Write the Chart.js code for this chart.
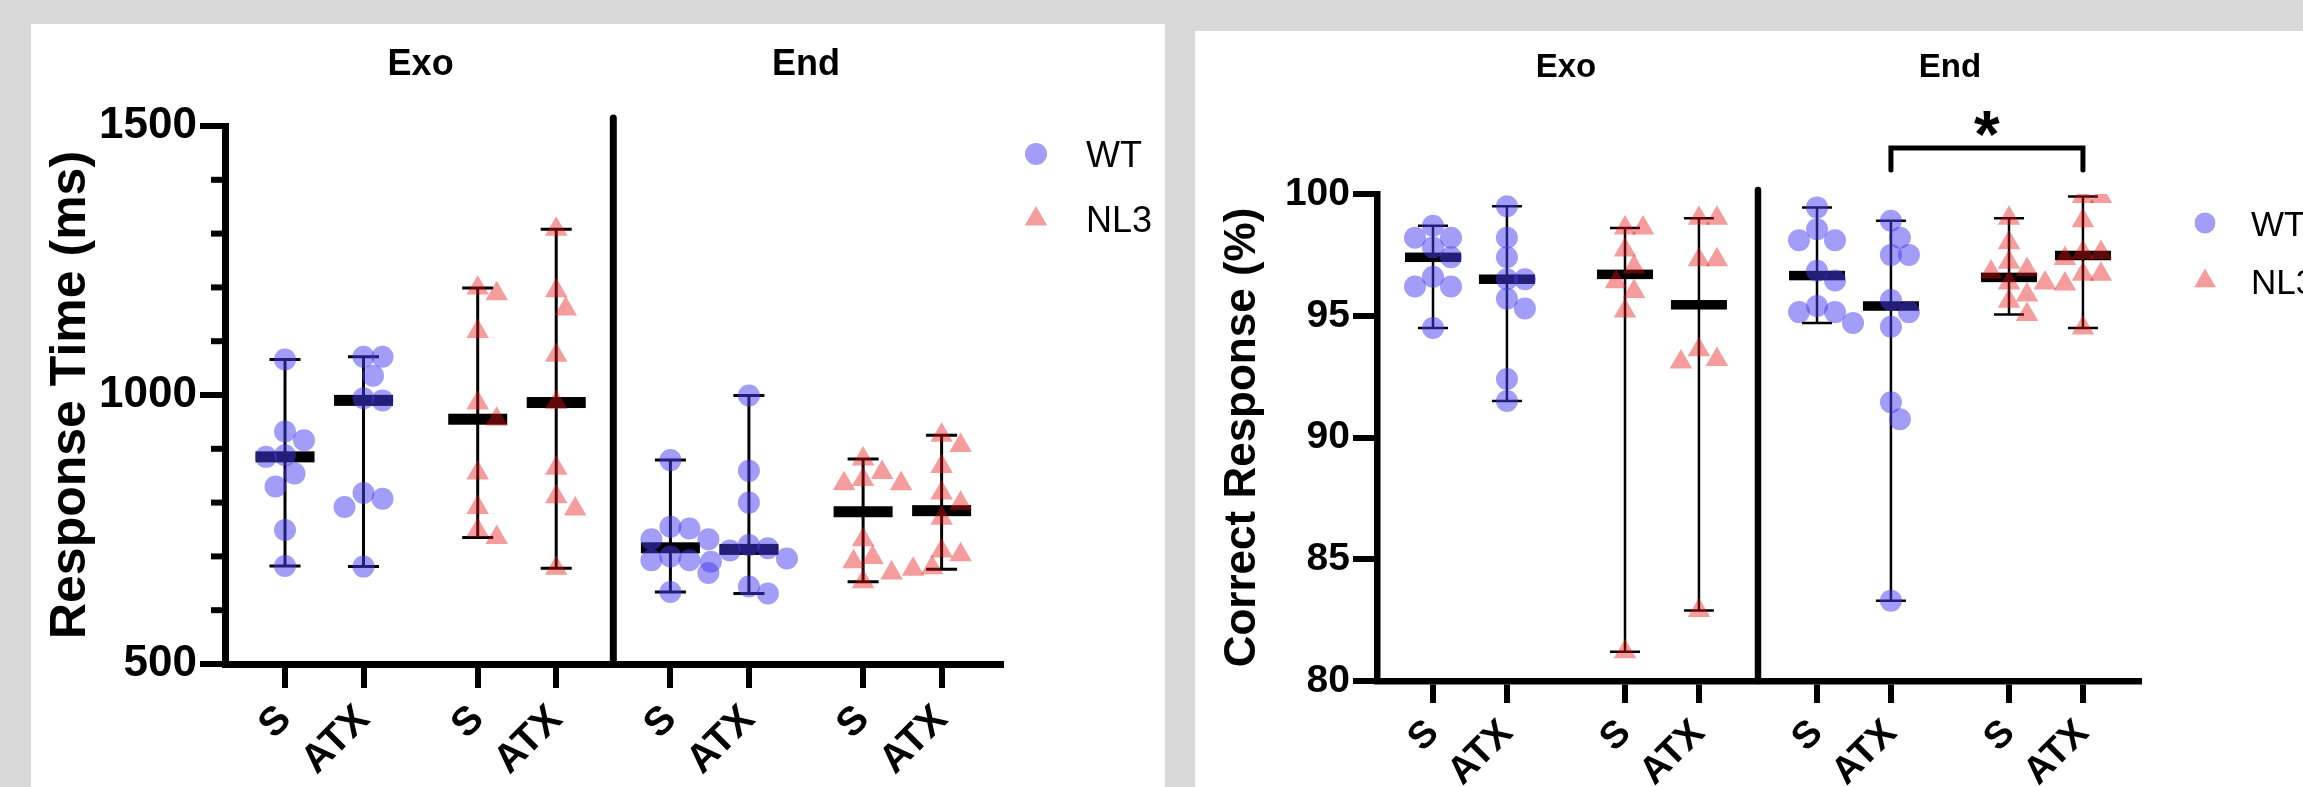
<!DOCTYPE html>
<html>
<head>
<meta charset="utf-8">
<title>Response time / correct response</title>
<script src="https://cdn.jsdelivr.net/npm/chart.js@4.4.1/dist/chart.umd.min.js"></script>
<style>
  html, body { margin:0; padding:0; }
  body { width:2303px; height:787px; background:#d9d9d9; position:relative; overflow:hidden; }
  .panel { position:absolute; background:#fff; }
  #leftPanel { left:31px; top:24px; width:1134px; height:763px; }
  #rightPanel { left:1195px; top:31px; width:1108px; height:756px; }
  canvas { display:block; }
</style>
</head>
<body>
<div class="panel" id="leftPanel"><canvas id="rtCanvas" width="1134" height="763"></canvas></div>
<div class="panel" id="rightPanel"><canvas id="crCanvas" width="1108" height="756"></canvas></div>
<script>
// Groups, genotypes and treatments
const groups = ['Exo', 'End'];
const genotypes = ['WT', 'NL3'];
const conditions = ['S', 'ATX'];

// Response time (ms), one value per animal
const rtWT_ExoS    = [1066, 932, 916, 888, 885, 854, 830, 749, 682];
const rtWT_ExoATX  = [1071, 1071, 1036, 994, 990, 818, 807, 792, 681];
const rtNL3_ExoS   = [1199, 1188, 1118, 985, 955, 855, 791, 748, 735];
const rtNL3_ExoATX = [1308, 1194, 1160, 1074, 986, 864, 811, 788, 678];
const rtWT_EndS    = [879, 755, 752, 732, 732, 700, 693, 693, 669, 634];
const rtWT_EndATX  = [999, 859, 800, 721, 715, 711, 696, 690, 644, 631];
const rtNL3_EndS   = [881, 856, 843, 835, 835, 731, 698, 690, 669, 653];
const rtNL3_EndATX = [925, 906, 867, 818, 799, 771, 710, 703, 679, 676];
const rtTicks = [500, 1000, 1500];
const rtMinorTicks = [600, 700, 800, 900, 1100, 1200, 1300, 1400];

// Correct response (%)
const crWT_ExoS    = [98.7, 98.2, 98.2, 97.8, 97.4, 96.6, 96.2, 96.2, 94.5];
const crWT_ExoATX  = [99.5, 98.2, 97.4, 96.5, 96.5, 95.7, 95.3, 92.4, 91.5];
const crNL3_ExoS   = [98.6, 98.6, 97.7, 97.0, 96.4, 96.0, 95.2, 81.2];
const crNL3_ExoATX = [99.0, 99.0, 97.3, 97.3, 93.6, 93.2, 93.1, 82.9];
const crWT_EndS    = [99.45, 98.55, 98.1, 98.1, 96.85, 96.45, 95.4, 95.15, 95.15, 94.7];
const crWT_EndATX  = [98.9, 98.2, 97.5, 97.5, 95.65, 95.15, 94.55, 91.45, 90.75, 83.3];
const crNL3_EndS   = [99.0, 98.0, 97.2, 96.9, 96.8, 96.35, 96.35, 95.85, 95.6, 95.05];
const crNL3_EndATX = [99.9, 99.9, 98.9, 97.6, 97.6, 97.35, 96.7, 96.7, 96.3, 94.5];
const crTicks = [80, 85, 90, 95, 100];
// significance: End / ATX, WT vs NL3
const crComparisons = [{ group: 1, cond: 1, label: '*' }];

// Styles
const pointColors = ['rgba(70,60,240,0.5)', 'rgba(230,20,20,0.42)'];
const pointStyles = ['circle', 'triangle'];
const SANS = "'Liberation Sans', Arial, Helvetica, sans-serif";

function median(vals){
  const s = [...vals].sort((a,b)=>a-b);
  const m = Math.floor(s.length/2);
  return s.length % 2 ? s[m] : (s[m-1] + s[m]) / 2;
}

// simple deterministic beeswarm: pixel offsets so markers do not pile up
function swarm(vals, pxPerY, step, minDist){
  const order = vals.map((v,i)=>i).sort((a,b)=>vals[b]-vals[a]);
  const placed = [];
  const offs = new Array(vals.length).fill(0);
  for(const i of order){
    const py = vals[i]*pxPerY;
    for(let n=0;n<30;n++){
      const dx = n===0 ? 0 : (n%2 ? 1 : -1) * Math.ceil(n/2) * step;
      if(placed.every(p => Math.hypot(p.x-dx, p.y-py) >= minDist)){
        offs[i] = dx; placed.push({x:dx, y:py}); break;
      }
    }
  }
  return offs;
}

function makeChart(canvasId, cfg){
  const slotPos = (g, k, c) => g*2 + k + c*cfg.pairStep;
  const tickPos = [], tickLab = [];
  groups.forEach((_, g) => genotypes.forEach((_, k) => conditions.forEach((lab, c) => {
    tickPos.push(slotPos(g,k,c)); tickLab.push(lab);
  })));

  const decor = {
    id: 'decor_' + canvasId,
    beforeDatasetsDraw(chart){
      const {ctx, chartArea, scales:{x, y}} = chart;
      ctx.save();
      ctx.strokeStyle = '#000'; ctx.fillStyle = '#000';
      // median with range
      genotypes.forEach((_, k) => groups.forEach((_, g) => conditions.forEach((_, c) => {
        const vals = cfg.series[k][g][c];
        const px = x.getPixelForValue(slotPos(g,k,c));
        const top = y.getPixelForValue(Math.max(...vals));
        const bot = y.getPixelForValue(Math.min(...vals));
        const mid = y.getPixelForValue(median(vals));
        ctx.lineWidth = cfg.whisker;
        ctx.lineCap = 'butt';
        ctx.beginPath();
        ctx.moveTo(px, top); ctx.lineTo(px, bot);
        ctx.moveTo(px - cfg.capHalf, top); ctx.lineTo(px + cfg.capHalf, top);
        ctx.moveTo(px - cfg.capHalf, bot); ctx.lineTo(px + cfg.capHalf, bot);
        ctx.stroke();
        ctx.fillRect(px - cfg.barHalf, mid - cfg.barThick/2, cfg.barHalf*2, cfg.barThick);
      })));
      // minor y ticks
      ctx.lineWidth = cfg.tickWidth;
      (cfg.minorTicks || []).forEach(v => {
        const py = y.getPixelForValue(v);
        ctx.beginPath(); ctx.moveTo(chartArea.left - cfg.minorLen, py); ctx.lineTo(chartArea.left, py); ctx.stroke();
      });
      // divider between Exo and End
      const dx = x.getPixelForValue((slotPos(0,1,1) + slotPos(1,0,0)) / 2);
      ctx.lineWidth = cfg.axisWidth;
      ctx.lineCap = 'round';
      ctx.beginPath(); ctx.moveTo(dx, chartArea.top - cfg.dividerRise); ctx.lineTo(dx, chartArea.bottom); ctx.stroke();
      ctx.restore();
    },
    afterDraw(chart){
      const {ctx, chartArea, scales:{x}} = chart;
      ctx.save();
      ctx.fillStyle = '#000'; ctx.strokeStyle = '#000';
      // group headers
      ctx.font = `bold ${cfg.headerSize}px ${SANS}`;
      ctx.textAlign = 'center'; ctx.textBaseline = 'alphabetic';
      groups.forEach((name, g) => {
        const cx = x.getPixelForValue((slotPos(g,0,0) + slotPos(g,1,1)) / 2);
        ctx.fillText(name, cx, cfg.headerBaseline);
      });
      // significance brackets
      (cfg.comparisons || []).forEach(cmp => {
        const x1 = x.getPixelForValue(slotPos(cmp.group,0,cmp.cond));
        const x2 = x.getPixelForValue(slotPos(cmp.group,1,cmp.cond));
        const yTop = chartArea.top - cfg.bracketRise;
        const yEnd = yTop + cfg.bracketDrop;
        ctx.lineWidth = 5; ctx.lineCap = 'round'; ctx.lineJoin = 'miter';
        ctx.beginPath(); ctx.moveTo(x1, yEnd); ctx.lineTo(x1, yTop); ctx.lineTo(x2, yTop); ctx.lineTo(x2, yEnd); ctx.stroke();
        ctx.font = `bold ${cfg.starSize}px ${SANS}`;
        ctx.fillText(cmp.label, (x1+x2)/2, yTop + cfg.starOffset);
      });
      // legend
      const lg = cfg.legend;
      genotypes.forEach((name, k) => {
        const cy = lg.y + k*lg.dy;
        ctx.fillStyle = pointColors[k];
        ctx.beginPath();
        if(k === 0){
          ctx.arc(lg.x, cy, lg.r, 0, Math.PI*2);
        } else {
          ctx.moveTo(lg.x, cy - lg.tr);
          ctx.lineTo(lg.x + lg.tr*0.866, cy + lg.tr/2);
          ctx.lineTo(lg.x - lg.tr*0.866, cy + lg.tr/2);
          ctx.closePath();
        }
        ctx.fill();
        ctx.fillStyle = '#000';
        ctx.font = `${lg.size}px ${SANS}`;
        ctx.textAlign = 'left'; ctx.textBaseline = 'alphabetic';
        ctx.fillText(name, lg.textX, cy + lg.size*0.36);
      });
      ctx.restore();
    }
  };

  const datasets = genotypes.map((name, k) => ({
    label: name,
    data: [],
    pointStyle: pointStyles[k],
    pointRadius: k === 0 ? cfg.circleR : cfg.triR,
    pointBackgroundColor: pointColors[k],
    pointBorderWidth: 0,
    showLine: false
  }));

  const chart = new Chart(document.getElementById(canvasId), {
    type: 'scatter',
    data: { datasets },
    plugins: [decor],
    options: {
      responsive: false,
      animation: false,
      events: [],
      layout: { padding: { left: 0, top: cfg.area.top, right: cfg.area.right, bottom: 0 } },
      plugins: { legend: { display: false }, tooltip: { enabled: false } },
      scales: {
        x: {
          type: 'linear', min: cfg.xMin, max: cfg.xMax,
          afterFit: s => { s.height = cfg.area.bottom; },
          afterBuildTicks: s => { s.ticks = tickPos.map(v => ({ value: v })); },
          grid: { drawOnChartArea: false, drawTicks: true, tickLength: cfg.xTickLen, tickWidth: cfg.tickWidth, lineWidth: cfg.tickWidth, tickColor: '#000', color: '#000' },
          border: { display: true, color: '#000', width: cfg.axisWidth },
          ticks: {
            autoSkip: false, minRotation: 45, maxRotation: 45, padding: cfg.xLabelPad, color: '#000',
            font: { family: SANS, weight: 'bold', size: cfg.xLabelSize },
            callback: (v, i) => tickLab[i]
          }
        },
        y: {
          type: 'linear', min: cfg.yMin, max: cfg.yMax,
          afterFit: s => { s.width = cfg.area.left; },
          afterBuildTicks: s => { s.ticks = cfg.yTicks.map(v => ({ value: v })); },
          grid: { drawOnChartArea: false, drawTicks: true, tickLength: cfg.yTickLen, tickWidth: cfg.tickWidth, lineWidth: cfg.tickWidth, tickColor: '#000', color: '#000' },
          border: { display: true, color: '#000', width: cfg.axisWidth },
          ticks: {
            padding: 3, color: '#000',
            font: { family: SANS, weight: 'bold', size: cfg.yLabelSize },
            callback: v => String(v)
          },
          title: {
            display: true, text: cfg.yTitle, color: '#000',
            font: { family: SANS, weight: 'bold', size: cfg.titleSize },
            padding: { top: cfg.titlePad, bottom: 0 }
          }
        }
      }
    }
  });

  // spread the points sideways using the real pixel scales
  const xs = chart.scales.x, ys = chart.scales.y;
  const pxX = xs.getPixelForValue(1) - xs.getPixelForValue(0);
  const pxY = Math.abs(ys.getPixelForValue(cfg.yMax) - ys.getPixelForValue(cfg.yMin)) / (cfg.yMax - cfg.yMin);
  genotypes.forEach((_, k) => {
    const pts = [];
    groups.forEach((_, g) => conditions.forEach((_, c) => {
      const vals = cfg.series[k][g][c];
      const offs = swarm(vals, pxY, cfg.swarmStep, cfg.swarmGap);
      vals.forEach((v, i) => pts.push({ x: slotPos(g,k,c) + offs[i]/pxX, y: v }));
    }));
    chart.data.datasets[k].data = pts;
  });
  chart.update('none');
  return chart;
}

makeChart('rtCanvas', {
  series: [[[rtWT_ExoS, rtWT_ExoATX], [rtWT_EndS, rtWT_EndATX]],
           [[rtNL3_ExoS, rtNL3_ExoATX], [rtNL3_EndS, rtNL3_EndATX]]],
  yMin: 500, yMax: 1500, yTicks: rtTicks, minorTicks: rtMinorTicks, minorLen: 14,
  yTitle: 'Response Time (ms)',
  xMin: -0.3114, xMax: 3.7156, pairStep: 0.4074,
  area: { left: 194, top: 102, right: 164, bottom: 123 },
  axisWidth: 7, tickWidth: 6, xTickLen: 24, yTickLen: 25,
  xLabelSize: 40, xLabelPad: 8, yLabelSize: 44, titleSize: 50, titlePad: 10,
  headerSize: 36, headerBaseline: 51,
  whisker: 3, capHalf: 15.5, barHalf: 29.5, barThick: 11,
  circleR: 11, triR: 13, swarmStep: 9.5, swarmGap: 19,
  dividerRise: 8,
  legend: { x: 1005, y: 130, dy: 65, r: 11, tr: 13, textX: 1055, size: 36 }
});

makeChart('crCanvas', {
  series: [[[crWT_ExoS, crWT_ExoATX], [crWT_EndS, crWT_EndATX]],
           [[crNL3_ExoS, crNL3_ExoATX], [crNL3_EndS, crNL3_EndATX]]],
  yMin: 80, yMax: 100, yTicks: crTicks,
  yTitle: 'Correct Response (%)',
  xMin: -0.2917, xMax: 3.677, pairStep: 0.385,
  area: { left: 182, top: 163, right: 164, bottom: 106 },
  axisWidth: 6.5, tickWidth: 6, xTickLen: 22, yTickLen: 24,
  xLabelSize: 38, xLabelPad: 8, yLabelSize: 39, titleSize: 44, titlePad: 21,
  headerSize: 33, headerBaseline: 46,
  whisker: 2.5, capHalf: 15, barHalf: 28, barThick: 9.5,
  circleR: 11, triR: 13, swarmStep: 9, swarmGap: 18,
  dividerRise: 4,
  comparisons: crComparisons, bracketRise: 46, bracketDrop: 22, starSize: 66, starOffset: 9,
  legend: { x: 1010, y: 192, dy: 58, r: 10.5, tr: 12.5, textX: 1056, size: 35 }
});
</script>
</body>
</html>
